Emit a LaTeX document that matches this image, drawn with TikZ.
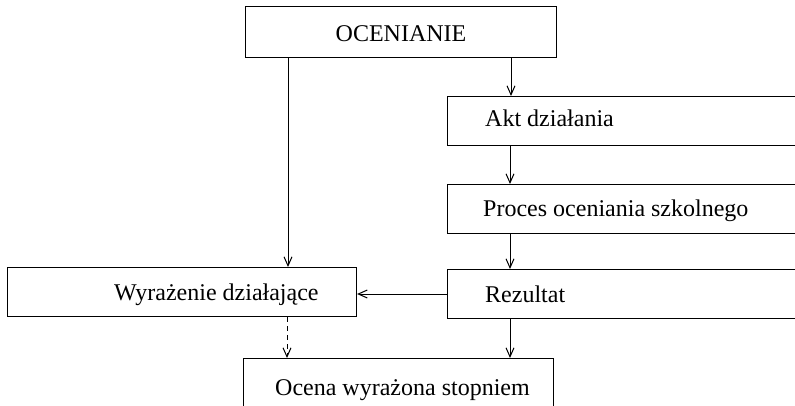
\documentclass[tikz,border=0pt]{standalone}
\usepackage{fontspec}
\setmainfont{Liberation Serif}
\usetikzlibrary{arrows.meta}
\begin{document}
\begin{tikzpicture}[x=1pt,y=-1pt,
  box/.style={draw,line width=1.1pt,rectangle,inner sep=0pt,anchor=north west},
  lbl/.style={inner sep=0pt,anchor=base west,font=\fontsize{24}{27}\selectfont},
  arr/.style={line width=1pt,-{Straight Barb[length=9pt,width=8pt,line width=1pt]}},
  darr/.style={arr,dash pattern=on 5pt off 4pt}]
\useasboundingbox (0,0) rectangle (795,406);
\clip (0,0) rectangle (795,406);
% boxes
\node[box,minimum width=311pt,minimum height=51pt] (oc) at (245,6) {};
\node[box,minimum width=400pt,minimum height=49pt] (akt) at (447,96) {};
\node[box,minimum width=400pt,minimum height=49pt] (pro) at (447,184) {};
\node[box,minimum width=400pt,minimum height=49pt] (rez) at (447,269) {};
\node[box,minimum width=349pt,minimum height=49pt] (wy) at (7,267) {};
\node[box,minimum width=310pt,minimum height=80pt] (oce) at (243,358) {};
% labels
\node[lbl,anchor=base] (toc) at (401,42) {OCENIANIE};
\node[lbl] (takt) at (485,127) {Akt działania};
\node[lbl] (tpro) at (483,217) {Proces oceniania szkolnego};
\node[lbl] (trez) at (485,302) {Rezultat};
\node[lbl] (twy) at (114,300) {Wyrażenie działające};
\node[lbl] (toce) at (275,395) {Ocena wyrażona stopniem};
% connectors
\draw[arr] (288,0 |- oc.south) -- (288,0 |- wy.north);
\draw[arr] (511,0 |- oc.south) -- (511,0 |- akt.north);
\draw[arr] (510,0 |- akt.south) -- (510,0 |- pro.north);
\draw[arr] (510,0 |- pro.south) -- (510,0 |- rez.north);
\draw[arr] (rez.west |- 0,294) -- (wy.east |- 0,294);
\draw[arr] (510,0 |- rez.south) -- (510,0 |- oce.north);
\draw[darr] (287,0 |- wy.south) -- (287,0 |- oce.north);
\end{tikzpicture}
\end{document}
